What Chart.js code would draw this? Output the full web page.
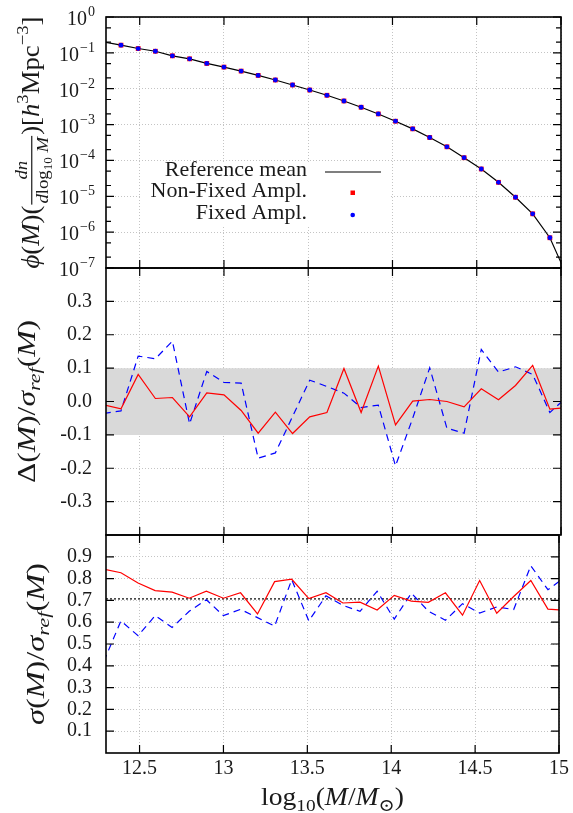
<!DOCTYPE html>
<html>
<head>
<meta charset="utf-8">
<script src="https://cdn.jsdelivr.net/npm/chart.js@4.4.1/dist/chart.umd.min.js"></script>
<style>
html, body { margin: 0; padding: 0; background: #fff; }
#wrap { position: relative; width: 573px; height: 813px; }
#wrap canvas { position: absolute; left: 0; top: 0; }
</style>
</head>
<body>
<div id="wrap">
<canvas id="phiChart" width="573" height="813"></canvas>
<canvas id="deltaChart" width="573" height="813"></canvas>
<canvas id="sigmaChart" width="573" height="813"></canvas>
</div>
<script>
// log10 of halo mass, bin centres (first and last lie just outside the plotted range)
const logM = [12.287, 12.389, 12.491, 12.593, 12.694, 12.796, 12.898, 13.000, 13.102, 13.203,
  13.305, 13.407, 13.509, 13.611, 13.712, 13.814, 13.916, 14.018, 14.120, 14.221,
  14.323, 14.425, 14.527, 14.629, 14.730, 14.832, 14.934, 15.036];

// top panel: mass function
const refMeanPhi = [0.202, 0.164, 0.132, 0.111, 0.0826, 0.0681, 0.0507, 0.0401, 0.0310, 0.0235,
  0.0175, 0.0127, 0.00920, 0.00656, 0.00455, 0.00304, 0.00198, 0.00124, 0.000760, 0.000436,
  0.000240, 0.000119, 5.77e-5, 2.45e-5, 9.4e-6, 3.24e-6, 6.98e-7, 5.9e-8];
const nonFixedPhi = [null, 0.164, 0.132, 0.111, 0.0826, 0.0681, 0.0507, 0.0401, 0.0310, 0.0235,
  0.0175, 0.0127, 0.00920, 0.00656, 0.00455, 0.00304, 0.00198, 0.00124, 0.000760, 0.000436,
  0.000240, 0.000119, 5.77e-5, 2.45e-5, 9.4e-6, 3.24e-6, 6.98e-7, null];
const fixedPhi = [null, 0.164, 0.132, 0.111, 0.0826, 0.0681, 0.0507, 0.0401, 0.0310, 0.0235,
  0.0175, 0.0127, 0.00920, 0.00656, 0.00455, 0.00304, 0.00198, 0.00124, 0.000760, 0.000436,
  0.000240, 0.000119, 5.77e-5, 2.45e-5, 9.4e-6, 3.24e-6, 6.98e-7, null];

// middle panel: Delta(M)/sigma_ref(M)
const deltaNonFixed = [-0.010, -0.022, 0.081, 0.009, 0.012, -0.046, 0.026, 0.020, -0.027, -0.095,
  -0.032, -0.096, -0.046, -0.033, 0.099, -0.033, 0.106, -0.070, 0.001, 0.006,
  0.000, -0.016, 0.038, 0.005, 0.048, 0.108, -0.023, -0.018];
const deltaFixed = [-0.036, -0.028, 0.136, 0.128, 0.181, -0.067, 0.090, 0.057, 0.055, -0.170,
  -0.154, -0.045, 0.064, 0.045, 0.025, -0.018, -0.011, -0.193, -0.050, 0.101,
  -0.080, -0.095, 0.156, 0.088, 0.104, 0.081, -0.033, 0.014];
const bandX = [12.3, 15.0];
const bandUpper = [0.1, 0.1];
const bandLower = [-0.1, -0.1];

// bottom panel: sigma(M)/sigma_ref(M)
const sigmaNonFixed = [0.843, 0.827, 0.780, 0.745, 0.738, 0.710, 0.742, 0.710, 0.735, 0.638,
  0.786, 0.797, 0.708, 0.735, 0.688, 0.692, 0.656, 0.723, 0.697, 0.691,
  0.735, 0.632, 0.791, 0.641, 0.718, 0.791, 0.660, 0.655];
const sigmaFixed = [0.42, 0.606, 0.538, 0.630, 0.576, 0.650, 0.703, 0.630, 0.659, 0.621,
  0.582, 0.795, 0.606, 0.721, 0.677, 0.650, 0.742, 0.614, 0.733, 0.651,
  0.609, 0.685, 0.642, 0.670, 0.658, 0.859, 0.749, 0.807];
const halfLineX = [12.3, 15.0];
const halfLineY = [0.707, 0.707];

// ticks
const xTicks = [12.5, 13, 13.5, 14, 14.5, 15];
const phiTicks = [1, 1e-1, 1e-2, 1e-3, 1e-4, 1e-5, 1e-6, 1e-7];
const deltaTicks = [-0.3, -0.2, -0.1, 0.0, 0.1, 0.2, 0.3];
const sigmaTicks = [0.1, 0.2, 0.3, 0.4, 0.5, 0.6, 0.7, 0.8, 0.9];

const serif = '"Liberation Serif", "DejaVu Serif", serif';
const tickFont = { family: serif, size: 20 };
const textColor = '#1a1a1a';
const gridColor = '#c4c4c4';

function pts(xs, ys) {
    return xs.map((x, i) => ({ x: x, y: ys[i] }));
}

function fontStr(it, size) {
    return (it ? 'italic ' : '') + size + 'px ' + serif;
}

// tiny rich-text helper for the math labels
function measureParts(ctx, parts, base) {
    let w = 0;
    for (const p of parts) {
        if (p.frac) {
            const fs = base * (p.s || 1);
            p._w = Math.max(measureParts(ctx, p.frac[0], fs), measureParts(ctx, p.frac[1], fs)) + 4;
        } else {
            ctx.font = fontStr(p.it, base * (p.s || 1));
            p._w = ctx.measureText(p.t).width;
        }
        w += p._w;
    }
    return w;
}

function drawParts(ctx, parts, base, x, y) {
    for (const p of parts) {
        if (p.frac) {
            const fs = base * (p.s || 1);
            const nw = measureParts(ctx, p.frac[0], fs);
            const dw = measureParts(ctx, p.frac[1], fs);
            const barY = y - base * 0.27;
            ctx.fillRect(x + 1, barY - 0.6, p._w - 2, 1.2);
            drawParts(ctx, p.frac[0], fs, x + (p._w - nw) / 2, barY - fs * 0.28);
            drawParts(ctx, p.frac[1], fs, x + (p._w - dw) / 2, barY + fs * 0.9);
        } else {
            ctx.font = fontStr(p.it, base * (p.s || 1));
            ctx.fillText(p.t, x, y + (p.dy || 0) * base);
        }
        x += p._w;
    }
}

// span = wanted length of the label, the glyphs get stretched along the text a bit
function drawRich(ctx, parts, base, cx, cy, rotated, span) {
    ctx.save();
    ctx.fillStyle = textColor;
    ctx.textAlign = 'left';
    ctx.textBaseline = 'alphabetic';
    ctx.translate(cx, cy);
    if (rotated) ctx.rotate(-Math.PI / 2);
    const w = measureParts(ctx, parts, base);
    if (span) ctx.scale(span / w, 1);
    drawParts(ctx, parts, base, -w / 2, base * 0.3);
    ctx.restore();
}

const phiTitle = [
    { t: 'ϕ', it: true }, { t: '(' }, { t: 'M', it: true }, { t: ')(' },
    { frac: [[{ t: 'dn', it: true }],
             [{ t: 'd', it: true }, { t: 'log' }, { t: '10', s: 0.7, dy: 0.25 }, { t: ' ' }, { t: 'M', it: true }]], s: 0.7 },
    { t: ')[' }, { t: 'h', it: true }, { t: '3', s: 0.7, dy: -0.42 },
    { t: 'Mpc' }, { t: '−3', s: 0.7, dy: -0.42 }, { t: ']' }
];
const deltaTitle = [
    { t: 'Δ' }, { t: '(' }, { t: 'M', it: true }, { t: ')/' }, { t: 'σ', it: true },
    { t: 'ref', it: true, s: 0.7, dy: 0.22 }, { t: '(' }, { t: 'M', it: true }, { t: ')' }
];
const sigmaTitle = [
    { t: 'σ', it: true }, { t: '(' }, { t: 'M', it: true }, { t: ')/' }, { t: 'σ', it: true },
    { t: 'ref', it: true, s: 0.7, dy: 0.22 }, { t: '(' }, { t: 'M', it: true }, { t: ')' }
];
const massTitle = [
    { t: 'log' }, { t: '10', s: 0.7, dy: 0.25 }, { t: '(' }, { t: 'M', it: true }, { t: '/' },
    { t: 'M', it: true }, { t: '⊙', s: 0.7, dy: 0.25 }, { t: ')' }
];

// frame with inward tics (gnuplot look) and axis titles
const framePlugin = {
    id: 'frame',
    afterDraw(chart, args, opts) {
        const ctx = chart.ctx;
        const a = chart.chartArea;
        const xs = chart.scales.x, ys = chart.scales.y;
        ctx.save();
        ctx.strokeStyle = '#000';
        ctx.lineWidth = 1.2;
        ctx.beginPath();
        (opts.yMajor || []).forEach(v => {
            const y = ys.getPixelForValue(v);
            ctx.moveTo(a.left, y); ctx.lineTo(a.left + 8, y);
            ctx.moveTo(a.right, y); ctx.lineTo(a.right - 8, y);
        });
        (opts.yMinor || []).forEach(v => {
            const y = ys.getPixelForValue(v);
            ctx.moveTo(a.left, y); ctx.lineTo(a.left + 5, y);
            ctx.moveTo(a.right, y); ctx.lineTo(a.right - 5, y);
        });
        xTicks.forEach(v => {
            const x = xs.getPixelForValue(v);
            ctx.moveTo(x, a.top); ctx.lineTo(x, a.top + 8);
            ctx.moveTo(x, a.bottom); ctx.lineTo(x, a.bottom - 8);
        });
        ctx.stroke();
        ctx.lineWidth = 1.6;
        ctx.strokeRect(a.left, a.top, a.right - a.left, a.bottom - a.top);
        ctx.restore();

        if (opts.title) {
            drawRich(ctx, opts.title, 25, opts.titleX, (a.top + a.bottom) / 2, true, opts.titleSpan);
        }
        if (opts.xTitle) {
            drawRich(ctx, opts.xTitle, 25, (a.left + a.right) / 2, 797, false, 143);
        }
        if (opts.logLabels) {
            ctx.save();
            ctx.fillStyle = textColor;
            ctx.textAlign = 'left';
            ctx.textBaseline = 'alphabetic';
            phiTicks.forEach(v => {
                const y = ys.getPixelForValue(v);
                const k = Math.round(Math.log10(v));
                const ex = k === 0 ? '0' : '−' + (-k);
                ctx.font = fontStr(false, 14);
                const ew = ctx.measureText(ex).width;
                ctx.font = fontStr(false, 20);
                const bw = ctx.measureText('10').width;
                const x0 = 94 - ew - bw;
                ctx.fillText('10', x0, y + 8);
                ctx.font = fontStr(false, 14);
                ctx.fillText(ex, x0 + bw + 1, y - 1);
            });
            ctx.restore();
        }
    }
};

// key of the top panel
const keyPlugin = {
    id: 'key',
    beforeDatasetsDraw(chart) {
        const ctx = chart.ctx;
        ctx.save();
        ctx.fillStyle = '#fff';
        ctx.fillRect(141, 162, 249, 64);
        ctx.restore();
    },
    afterDatasetsDraw(chart) {
        const ctx = chart.ctx;
        ctx.save();
        ctx.fillStyle = textColor;
        ctx.font = fontStr(false, 22);
        ctx.textAlign = 'right';
        ctx.textBaseline = 'alphabetic';
        ctx.fillText('Reference mean', 307, 176);
        ctx.fillText('Non-Fixed Ampl.', 307, 197);
        ctx.fillText('Fixed Ampl.', 307, 219);
        ctx.strokeStyle = '#000';
        ctx.lineWidth = 1.2;
        ctx.beginPath();
        ctx.moveTo(325, 172); ctx.lineTo(381, 172);
        ctx.stroke();
        ctx.fillStyle = '#ff0000';
        ctx.fillRect(350.5, 190.5, 4.5, 4.5);
        ctx.fillStyle = '#0000ff';
        ctx.beginPath();
        ctx.arc(352.7, 215, 2.3, 0, Math.PI * 2);
        ctx.fill();
        ctx.restore();
    }
};

function xAxis(showLabels) {
    return {
        type: 'linear', min: 12.3, max: 15,
        afterBuildTicks: s => { s.ticks = xTicks.map(v => ({ value: v })); },
        afterFit: s => { s.height = showLabels ? 60 : 0; },
        grid: { color: gridColor, lineWidth: 1, drawTicks: false },
        border: { display: false, dash: [1, 2] },
        ticks: {
            display: showLabels, font: tickFont, color: textColor, padding: 4,
            maxRotation: 0, autoSkip: false, callback: v => String(v)
        }
    };
}

const baseOptions = {
    responsive: false,
    animation: false,
    events: [],
    plugins: { legend: { display: false }, tooltip: { enabled: false } }
};

const minorPhi = [];
for (let k = 1; k <= 7; k++) {
    minorPhi.push(2 * Math.pow(10, -k), 5 * Math.pow(10, -k));
}

new Chart(document.getElementById('phiChart'), {
    type: 'line',
    data: {
        datasets: [
            { label: 'Fixed Ampl.', data: pts(logM, fixedPhi), showLine: false, pointStyle: 'circle',
              pointRadius: 2.4, pointBorderWidth: 0, pointBackgroundColor: '#0000ff', order: 0 },
            { label: 'Non-Fixed Ampl.', data: pts(logM, nonFixedPhi), showLine: false, pointStyle: 'rect',
              pointRadius: 3.4, pointBorderWidth: 0, pointBackgroundColor: '#ff0000', order: 1 },
            { label: 'Reference mean', data: pts(logM, refMeanPhi), borderColor: '#000', borderWidth: 1.2,
              pointRadius: 0, tension: 0, order: 2 }
        ]
    },
    options: {
        ...baseOptions,
        layout: { padding: { top: 17, right: 12, bottom: 545, left: 0 } },
        scales: {
            x: xAxis(false),
            y: {
                type: 'logarithmic', min: 1e-7, max: 1,
                afterBuildTicks: s => { s.ticks = phiTicks.map(v => ({ value: v })); },
                afterFit: s => { s.width = 106; },
                grid: { color: gridColor, lineWidth: 1, drawTicks: false },
                border: { display: false, dash: [1, 2] },
                ticks: { display: false }
            }
        },
        plugins: {
            ...baseOptions.plugins,
            frame: { yMajor: phiTicks, yMinor: minorPhi, title: phiTitle, titleX: 31, titleSpan: 252, logLabels: true }
        }
    },
    plugins: [framePlugin, keyPlugin]
});

new Chart(document.getElementById('deltaChart'), {
    type: 'line',
    data: {
        datasets: [
            { label: 'Non-Fixed Ampl.', data: pts(logM, deltaNonFixed), borderColor: '#ff0000', borderWidth: 1.2,
              pointRadius: 0, tension: 0, order: 0 },
            { label: 'Fixed Ampl.', data: pts(logM, deltaFixed), borderColor: '#0000ff', borderWidth: 1.2,
              borderDash: [7, 5], pointRadius: 0, tension: 0, order: 1 },
            { label: 'band upper', data: pts(bandX, bandUpper), borderWidth: 0, pointRadius: 0,
              backgroundColor: '#d9d9d9', fill: '+1', order: 5 },
            { label: 'band lower', data: pts(bandX, bandLower), borderWidth: 0, pointRadius: 0,
              fill: false, order: 6 }
        ]
    },
    options: {
        ...baseOptions,
        layout: { padding: { top: 268, right: 12, bottom: 278, left: 0 } },
        scales: {
            x: xAxis(false),
            y: {
                type: 'linear', min: -0.4, max: 0.4,
                afterBuildTicks: s => { s.ticks = deltaTicks.map(v => ({ value: v })); },
                afterFit: s => { s.width = 106; },
                grid: { color: gridColor, lineWidth: 1, drawTicks: false },
                border: { display: false, dash: [1, 2] },
                ticks: { font: tickFont, color: textColor, padding: 14, callback: v => v.toFixed(1) }
            }
        },
        plugins: {
            ...baseOptions.plugins,
            frame: { yMajor: deltaTicks, title: deltaTitle, titleX: 27, titleSpan: 163 }
        }
    },
    plugins: [framePlugin]
});

new Chart(document.getElementById('sigmaChart'), {
    type: 'line',
    data: {
        datasets: [
            { label: 'Non-Fixed Ampl.', data: pts(logM, sigmaNonFixed), borderColor: '#ff0000', borderWidth: 1.2,
              pointRadius: 0, tension: 0, order: 0 },
            { label: 'Fixed Ampl.', data: pts(logM, sigmaFixed), borderColor: '#0000ff', borderWidth: 1.2,
              borderDash: [7, 5], pointRadius: 0, tension: 0, order: 1 },
            { label: '1/sqrt2', data: pts(halfLineX, halfLineY), borderColor: '#333', borderWidth: 1.5,
              borderDash: [2, 2], pointRadius: 0, order: 2 }
        ]
    },
    options: {
        ...baseOptions,
        layout: { padding: { top: 535, right: 12, bottom: 0, left: 0 } },
        scales: {
            x: xAxis(true),
            y: {
                type: 'linear', min: 0, max: 1,
                afterBuildTicks: s => { s.ticks = sigmaTicks.map(v => ({ value: v })); },
                afterFit: s => { s.width = 106; },
                grid: { color: gridColor, lineWidth: 1, drawTicks: false },
                border: { display: false, dash: [1, 2] },
                ticks: { font: tickFont, color: textColor, padding: 14, callback: v => v.toFixed(1) }
            }
        },
        plugins: {
            ...baseOptions.plugins,
            frame: { yMajor: sigmaTicks, title: sigmaTitle, titleX: 36, titleSpan: 162, xTitle: massTitle }
        }
    },
    plugins: [framePlugin]
});
</script>
</body>
</html>
